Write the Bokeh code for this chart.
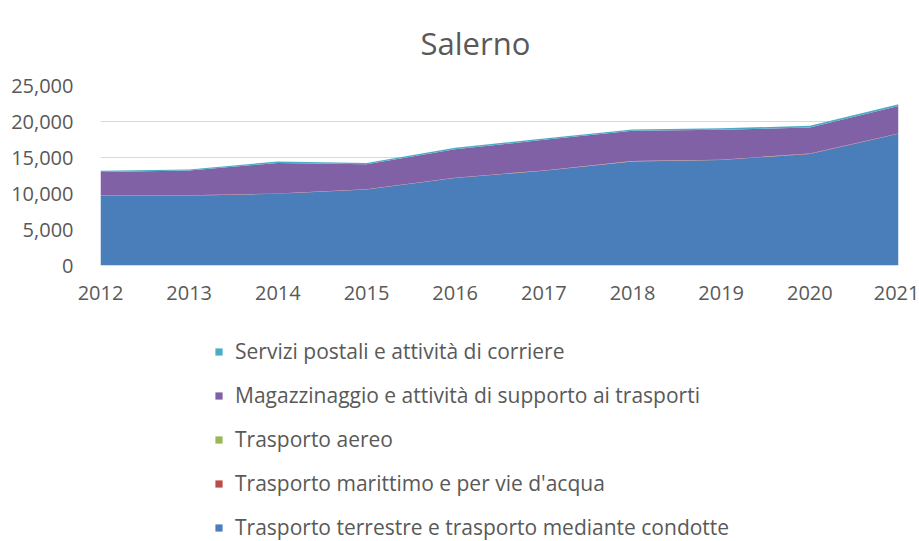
from bokeh.plotting import figure
from bokeh.models import ColumnDataSource, Legend, LegendItem, FixedTicker, NumeralTickFormatter, Range1d
from bokeh.layouts import column
from bokeh.embed import file_html
from bokeh.resources import INLINE

years = [2012, 2013, 2014, 2015, 2016, 2017, 2018, 2019, 2020, 2021]
terrestre = [9700, 9700, 9950, 10550, 12150, 13150, 14450, 14650, 15500, 18300]
marittimo = [40, 40, 40, 40, 40, 40, 40, 40, 40, 40]
aereo = [10, 10, 10, 10, 10, 10, 10, 10, 10, 10]
magazzinaggio = [3250, 3450, 4250, 3450, 3950, 4250, 4200, 4150, 3600, 3800]
postali = [150, 150, 200, 200, 200, 200, 200, 200, 250, 250]

series_names = [
    "Trasporto terrestre e trasporto mediante condotte",
    "Trasporto marittimo e per vie d'acqua",
    "Trasporto aereo",
    "Magazzinaggio e attività di supporto ai trasporti",
    "Servizi postali e attività di corriere",
]
colors = ["#4A7EBB", "#BE4B48", "#98B954", "#8061A6", "#4BACC6"]
keys = ["terrestre", "marittimo", "aereo", "magazzinaggio", "postali"]

source = ColumnDataSource(dict(
    year=years, terrestre=terrestre, marittimo=marittimo, aereo=aereo,
    magazzinaggio=magazzinaggio, postali=postali,
))

FONT = "Open Sans"
GREY = "#595959"

# ---- main chart ----
p = figure(width=919, height=310, output_backend="svg", toolbar_location=None,
           x_range=Range1d(2012, 2021), y_range=Range1d(0, 25000),
           min_border_left=100, min_border_right=21, min_border_top=85, min_border_bottom=45)
p.outline_line_color = None

p.varea_stack(stackers=keys, x="year", color=colors, source=source)

p.title.text = "Salerno"
p.title.text_font = FONT
p.title.text_font_size = "31px"
p.title.text_font_style = "normal"
p.title.text_color = GREY
p.title.align = "left"
p.title.offset = 320
p.title.vertical_align = "top"
p.title.standoff = 39

p.xaxis.ticker = FixedTicker(ticks=years)
p.yaxis.ticker = FixedTicker(ticks=[0, 5000, 10000, 15000, 20000, 25000])
p.yaxis.formatter = NumeralTickFormatter(format="0,0")
for ax in (p.xaxis, p.yaxis):
    ax.axis_line_color = None
    ax.major_tick_line_color = None
    ax.minor_tick_line_color = None
    ax.major_label_text_font = FONT
    ax.major_label_text_font_size = "20px"
    ax.major_label_text_color = GREY
p.xaxis.major_label_standoff = 14
p.yaxis.major_label_standoff = 21

p.xgrid.grid_line_color = None
p.ygrid.grid_line_color = "#D9D9D9"
p.ygrid.grid_line_width = 1

# ---- legend panel ----
lg = figure(width=919, height=231, output_backend="svg", toolbar_location=None,
            x_range=Range1d(-10, -9), y_range=Range1d(0, 25000),
            x_axis_type=None, y_axis_type=None,
            min_border_left=0, min_border_right=0, min_border_top=0, min_border_bottom=0)
lg.outline_line_color = None
lg.xgrid.grid_line_color = None
lg.ygrid.grid_line_color = None
lg_renderers = lg.varea_stack(stackers=keys, x="year", color=colors, source=source)

items = [LegendItem(label=series_names[i], renderers=[lg_renderers[i]]) for i in reversed(range(5))]
legend = Legend(items=items, location=(114, 0), orientation="vertical",
                padding=0, margin=0, spacing=16,
                glyph_width=9, glyph_height=9, label_height=28, label_standoff=12,
                label_text_font=FONT, label_text_font_size="21px", label_text_color=GREY,
                border_line_color=None, background_fill_alpha=0)
lg.add_layout(legend, "center")

layout = column(p, lg, spacing=0)
open("out.html", "w").write(file_html(layout, INLINE))
